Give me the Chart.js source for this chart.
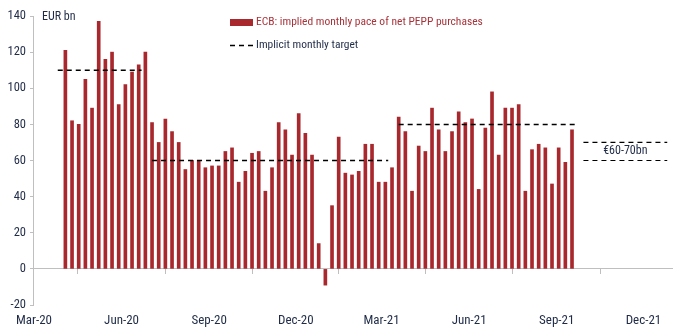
<!DOCTYPE html>
<html><head><meta charset="utf-8">
<script src="https://cdn.jsdelivr.net/npm/chart.js@4.4.1/dist/chart.umd.min.js"></script>
<style>html,body{margin:0;padding:0;background:#fff;}#wrap{position:relative;width:680px;height:332px;}canvas{display:block;}</style>
</head><body><div id="wrap"><canvas id="c" width="680" height="332" style="width:680px;height:332px"></canvas></div>
<script>
// ---- data ----
const weekDates = [
 '2020-04-03','2020-04-10','2020-04-17','2020-04-24','2020-05-01','2020-05-08','2020-05-15','2020-05-22','2020-05-29',
 '2020-06-05','2020-06-12','2020-06-19','2020-06-26','2020-07-03','2020-07-10','2020-07-17','2020-07-24','2020-07-31',
 '2020-08-07','2020-08-14','2020-08-21','2020-08-28','2020-09-04','2020-09-11','2020-09-18','2020-09-25','2020-10-02',
 '2020-10-09','2020-10-16','2020-10-23','2020-10-30','2020-11-06','2020-11-13','2020-11-20','2020-11-27','2020-12-04',
 '2020-12-11','2020-12-18','2020-12-25','2021-01-01','2021-01-08','2021-01-15','2021-01-22','2021-01-29','2021-02-05',
 '2021-02-12','2021-02-19','2021-02-26','2021-03-05','2021-03-12','2021-03-19','2021-03-26','2021-04-02','2021-04-09',
 '2021-04-16','2021-04-23','2021-04-30','2021-05-07','2021-05-14','2021-05-21','2021-05-28','2021-06-04','2021-06-11',
 '2021-06-18','2021-06-25','2021-07-02','2021-07-09','2021-07-16','2021-07-23','2021-07-30','2021-08-06','2021-08-13',
 '2021-08-20','2021-08-27','2021-09-03','2021-09-10','2021-09-17'
];
const monthlyPace = [
 121, 82, 80, 105, 89, 137, 116, 120, 91, 102,
 109, 113, 120, 81, 70, 83, 76, 70, 55, 60,
 60, 56, 57, 57, 65, 67, 48, 54, 64, 65,
 43, 56, 81, 77, 63, 86, 75, 63, 14, -9,
 35, 73, 53, 52, 54, 69, 69, 48, 48, 56,
 84, 76, 43, 68, 65, 89, 77, 65, 76, 87,
 81, 83, 44, 78, 98, 63, 89, 89, 91, 43,
 66, 69, 67, 47, 67, 59, 77
];
const tickDates  = ['2020-03-01','2020-06-01','2020-09-01','2020-12-01','2021-03-01','2021-06-01','2021-09-01','2021-12-01'];
const tickLabels = ['Mar-20','Jun-20','Sep-20','Dec-20','Mar-21','Jun-21','Sep-21','Dec-21'];
const targetLevels = [110, 60, 80];
const targetStarts = ['2020-03-26','2020-07-03','2021-03-19'];
const targetEnds   = ['2020-06-22','2021-03-08','2021-09-24'];
const rangeLevels  = [60, 70];
const rangeStart = '2021-09-29';
const rangeEnd   = '2021-12-26';
const rangeLabel = '€60-70bn';
const seriesLabel = 'ECB: implied monthly pace of net PEPP purchases';
const targetLabel = 'Implicit monthly target';
const unitLabel = 'EUR bn';
const xMinDate = '2020-02-29';
const xMaxDate = '2021-12-31';

// ---- helpers ----
const EPOCH = Date.UTC(2020, 2, 1);
function dayNum(s){ const [y,m,d] = s.split('-').map(Number); return Math.round((Date.UTC(y,m-1,d) - EPOCH)/86400000); }

const barData = weekDates.map((d,i)=>({x: dayNum(d), y: monthlyPace[i]}));
const targetData = [];
targetLevels.forEach((lv,i)=>{
  const s = dayNum(targetStarts[i]), e = dayNum(targetEnds[i]);
  if (i>0) targetData.push({x: s-1, y: null});
  targetData.push({x: s, y: lv}, {x: e, y: lv});
});
const rangeData = [];
rangeLevels.forEach((lv,i)=>{
  if (i>0) rangeData.push({x: dayNum(rangeStart)+1, y: null});
  rangeData.push({x: dayNum(rangeStart), y: lv}, {x: dayNum(rangeEnd), y: lv});
});
const tickVals = tickDates.map(dayNum);

const FONT = "'Roboto Condensed', 'DejaVu Sans Condensed', sans-serif";
const NAVY = '#1f2b47';
const BAR = '#a8282e';
const LEGRED = '#a8333a';
const AXIS = '#bfbfbf';
Chart.defaults.font.family = FONT;
Chart.defaults.color = NAVY;

const overlay = {
  id: 'overlay',
  afterDraw(chart){
    const {ctx, chartArea, scales} = chart;
    ctx.save();
    ctx.font = `11.5px ${FONT}`;
    ctx.textBaseline = 'middle';
    ctx.fillStyle = NAVY; ctx.textAlign = 'left';
    ctx.font = `12px ${FONT}`;
    ctx.fillText(unitLabel, chartArea.left + 9, chartArea.top + 1);
    ctx.font = `11.5px ${FONT}`;
    const lx = 230;
    ctx.fillStyle = BAR;
    ctx.fillRect(lx, 19, 23, 7);
    ctx.fillStyle = LEGRED;
    ctx.fillText(seriesLabel, lx + 26, 22.5);
    ctx.strokeStyle = '#000'; ctx.lineWidth = 1.5; ctx.setLineDash([5,4]);
    ctx.beginPath(); ctx.moveTo(lx, 45.5); ctx.lineTo(lx+23, 45.5); ctx.stroke();
    ctx.setLineDash([]);
    ctx.fillStyle = NAVY;
    ctx.fillText(targetLabel, lx + 26, 45.5);
    ctx.textAlign = 'center';
    ctx.font = `12px ${FONT}`;
    const cx = (scales.x.getPixelForValue(dayNum(rangeStart)) + scales.x.getPixelForValue(dayNum(rangeEnd)))/2;
    const cy = scales.y.getPixelForValue((rangeLevels[0]+rangeLevels[1])/2);
    ctx.fillText(rangeLabel, cx, cy);
    ctx.restore();
  }
};

new Chart(document.getElementById('c'), {
  type: 'bar',
  data: {
    datasets: [
      { type: 'line', label: targetLabel, data: targetData, borderColor: '#000', borderWidth: 1.5,
        borderDash: [5,4], pointRadius: 0, spanGaps: false, order: 1, xAxisID: 'x' },
      { type: 'line', label: rangeLabel, data: rangeData, borderColor: '#000', borderWidth: 1.2,
        borderDash: [5,4], pointRadius: 0, spanGaps: false, order: 1, xAxisID: 'x' },
      { type: 'bar', label: seriesLabel, data: barData, backgroundColor: BAR, barThickness: 3, order: 2, xAxisID: 'x' }
    ]
  },
  options: {
    responsive: false, animation: false, devicePixelRatio: 1,
    layout: { padding: { top: 16, right: 8, bottom: 0, left: 0 } },
    plugins: { legend: { display: false }, tooltip: { enabled: false } },
    scales: {
      x: {
        type: 'linear', position: { y: 0 }, min: dayNum(xMinDate), max: dayNum(xMaxDate), offset: false,
        afterBuildTicks: s => { s.ticks = tickVals.map(v=>({value:v})); },
        ticks: { display: false },
        grid: { display: true, drawOnChartArea: false, drawTicks: true, tickLength: 5, color: AXIS, tickColor: AXIS },
        border: { display: true, color: AXIS, width: 1 }
      },
      x2: {
        type: 'linear', position: 'bottom', min: dayNum(xMinDate), max: dayNum(xMaxDate), offset: false,
        afterBuildTicks: s => { s.ticks = tickVals.map(v=>({value:v})); },
        afterFit: s => { s.height = 27; },
        ticks: { autoSkip: false, maxRotation: 0, padding: 8, font: { size: 13 }, color: NAVY,
                 callback: (v) => { const i = tickVals.indexOf(v); return i >= 0 ? tickLabels[i] : ''; } },
        grid: { display: false, drawTicks: false },
        border: { display: false }
      },
      y: {
        min: -20, max: 140,
        afterFit: s => { s.width = 33; },
        ticks: { stepSize: 20, padding: 4, font: { size: 12.5 }, color: NAVY },
        grid: { display: true, drawOnChartArea: false, drawTicks: true, tickLength: 3, color: AXIS, tickColor: AXIS },
        border: { display: true, color: AXIS, width: 1 }
      }
    }
  },
  plugins: [overlay]
});
</script>
</body></html>
